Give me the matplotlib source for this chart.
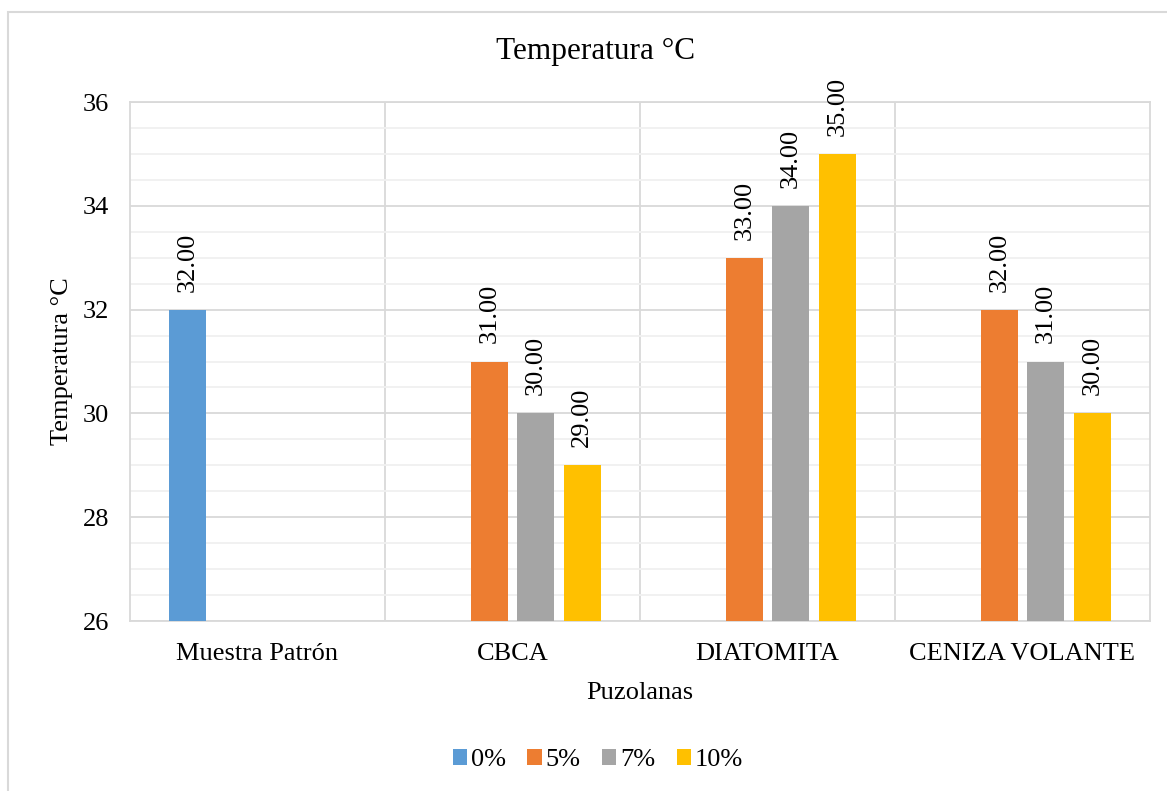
import numpy as np
import matplotlib
matplotlib.use('Agg')
import matplotlib.pyplot as plt
from matplotlib.patches import Rectangle

plt.rcParams['font.family'] = ['Liberation Serif', 'DejaVu Serif']

categories = ['Muestra Patrón', 'CBCA', 'DIATOMITA', 'CENIZA VOLANTE']
series = ['0%', '5%', '7%', '10%']
temp_0 = [32.0, None, None, None]
temp_5 = [None, 31.0, 33.0, 32.0]
temp_7 = [None, 30.0, 34.0, 31.0]
temp_10 = [None, 29.0, 35.0, 30.0]
colors = ['#5B9BD5', '#ED7D31', '#A5A5A5', '#FFC000']

fig = plt.figure(figsize=(11.67, 7.91), dpi=100)
ax = fig.add_axes([0.1114, 0.2149, 0.874, 0.6561])

# chart border (runs off the right and bottom edge)
fig.patches.append(Rectangle((8 / 1167, -0.05), 1.2, 1 - 12 / 791 + 0.05,
                             transform=fig.transFigure, fill=False,
                             edgecolor='#d9d9d9', linewidth=1.5))

ymin, ymax = 26, 36
idx = np.arange(len(categories))
step = 0.1824
width = 0.145
for i, (vals, lab) in enumerate(zip([temp_0, temp_5, temp_7, temp_10], series)):
    off = (i - 1.5) * step
    xs = [x + off for x, v in zip(idx, vals) if v is not None]
    hs = [v - ymin for v in vals if v is not None]
    ax.bar(xs, hs, width, bottom=ymin, color=colors[i], label=lab, zorder=3)
    for x, v in zip(xs, [v for v in vals if v is not None]):
        ax.annotate(f'{v:.2f}', (x, v), xytext=(0, 13), textcoords='offset points',
                    rotation=90, ha='center', va='bottom', fontsize=19)

ax.set_xlim(-0.5, len(categories) - 0.5)
ax.set_ylim(ymin, ymax)
ax.set_yticks(np.arange(26, 37, 2))
ax.set_yticks(np.arange(26, 36.1, 0.5), minor=True)
ax.tick_params(axis='y', which='both', length=0, labelsize=19, pad=15)
ax.set_xticks(idx)
ax.set_xticklabels(categories)
ax.tick_params(axis='x', length=0, labelsize=19, pad=16)

ax.grid(axis='y', which='major', color='#d9d9d9', linewidth=1.3, zorder=0)
ax.grid(axis='y', which='minor', color='#f0f0f0', linewidth=1.3, zorder=0)
for b in np.arange(0.5, len(categories) - 0.5, 1):
    ax.axvline(b, color='#d9d9d9', linewidth=1.3, zorder=1)
for s in ax.spines.values():
    s.set_color('#d9d9d9')
    s.set_linewidth(1.3)

fig.text(596 / 1167, 1 - 52 / 791, 'Temperatura °C', fontsize=22.5,
         ha='center', va='center')
ax.set_ylabel('Temperatura °C', fontsize=19, labelpad=7)
ax.set_xlabel('Puzolanas', fontsize=19, labelpad=12)

handles, labels = ax.get_legend_handles_labels()
fig.legend(handles, labels, loc='center', bbox_to_anchor=(598 / 1167, 1 - 760 / 791),
           ncol=4, frameon=False, fontsize=19, handlelength=0.55,
           handleheight=0.55, handletextpad=0.15, columnspacing=0.8)

fig.savefig('out.png', dpi=100)
